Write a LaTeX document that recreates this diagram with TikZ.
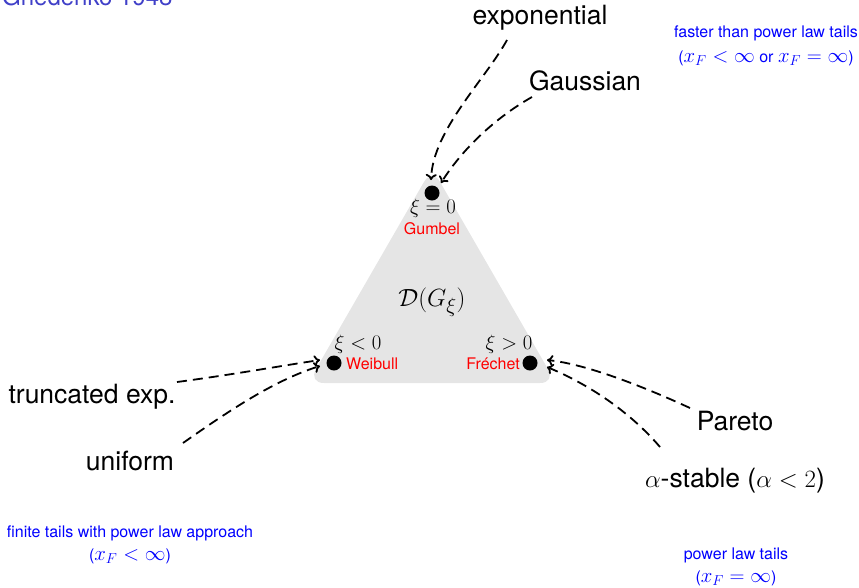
\documentclass[tikz,border=0pt]{standalone}
\usepackage[no-math]{fontspec}
\setmainfont{TeX Gyre Heros}
\usetikzlibrary{arrows.meta}
\newcommand{\mmath}[1]{{\fontsize{20}{22}\selectfont$#1$}}
\newcommand{\bmath}[1]{{\fontsize{31}{34}\selectfont$#1$}}
\begin{document}
\begin{tikzpicture}[x=1pt,y=-1pt,
  big/.style={font=\fontsize{26.5}{30}\selectfont, inner sep=0pt},
  small/.style={font=\fontsize{16}{18}\selectfont, inner sep=0pt},
  bluetxt/.style={small, text=blue},
  redtxt/.style={small, text=red},
  dot/.style={circle, fill=black, minimum size=15pt, inner sep=0pt},
  conn/.style={draw=black, line width=1.8pt, dash pattern=on 10pt off 6pt, -{To[length=6pt,width=11pt]}},
]
\useasboundingbox (0,0) rectangle (859,587);
% grey triangle
\fill[black!10, rounded corners=16pt] (432,168) -- (556,383) -- (308,383) -- cycle;
% dots
\node[dot] (gum) at (432,193) {};
\node[dot] (wei) at (334,363) {};
\node[dot] (fre) at (530,363) {};
\node[small] (xi0) at (433,208) {\mmath{\xi = 0}};
\node[redtxt] (gumL) at (432,229) {Gumbel};
\node[small] (xineg) at (358,344) {\mmath{\xi < 0}};
\node[redtxt, anchor=west] (weiL) at (346,364) {Weibull};
\node[small] (xipos) at (509,344) {\mmath{\xi > 0}};
\node[redtxt, anchor=east] (freL) at (520,364) {Fréchet};
\node[big] (dom) at (432,302) {\bmath{\mathcal{D}(G_\xi)}};
% outer labels
\node[big] (expo) at (540,18) {exponential};
\node[big] (gauss) at (585,81) {Gaussian};
\node[big] (trunc) at (92,397) {truncated exp.};
\node[big] (unif) at (130,461) {uniform};
\node[big] (par) at (735,421) {Pareto};
\node[big] (stab) at (735,481) {\bmath{\alpha}-stable (\bmath{\alpha < 2})};
% blue notes
\node[font=\fontsize{24}{26}\selectfont, text={rgb,255:red,64;green,64;blue,200}, anchor=base west, inner sep=0pt] (gned) at (2,5) {Gnedenko 1948};
\node[bluetxt] (n1a) at (766,33) {faster than power law tails};
\node[bluetxt] (n1b) at (766,58) {(\mmath{x_F < \infty} or \mmath{x_F = \infty})};
\node[bluetxt] (n2a) at (130,533) {finite tails with power law approach};
\node[bluetxt] (n2b) at (130,556) {(\mmath{x_F < \infty})};
\node[bluetxt] (n3a) at (736,555) {power law tails};
\node[bluetxt] (n3b) at (736,578) {(\mmath{x_F = \infty})};
% connector ends
\coordinate (expoS) at (507,40);
\coordinate (gaussS) at (532,97);
\coordinate (truncS) at (177,382);
\coordinate (unifS) at (183,443);
\coordinate (parS) at (690,408);
\coordinate (stabS) at (660,447);
\coordinate (gumTopA) at (431,180);
\coordinate (gumTopB) at (441,183);
\coordinate (weiA) at (320,360);
\coordinate (weiB) at (320,366);
\coordinate (freA) at (547,360);
\coordinate (freB) at (547,367);
\draw[conn] (expoS) .. controls (485,80) and (433,130) .. (gumTopA);
\draw[conn] (gaussS) .. controls (500,115) and (465,145) .. (gumTopB);
\draw[conn] (truncS) .. controls (230,375) and (280,366) .. (weiA);
\draw[conn] (unifS) .. controls (230,410) and (275,380) .. (weiB);
\draw[conn] (parS) .. controls (640,385) and (585,364) .. (freA);
\draw[conn] (stabS) .. controls (630,412) and (590,385) .. (freB);
\end{tikzpicture}
\end{document}
